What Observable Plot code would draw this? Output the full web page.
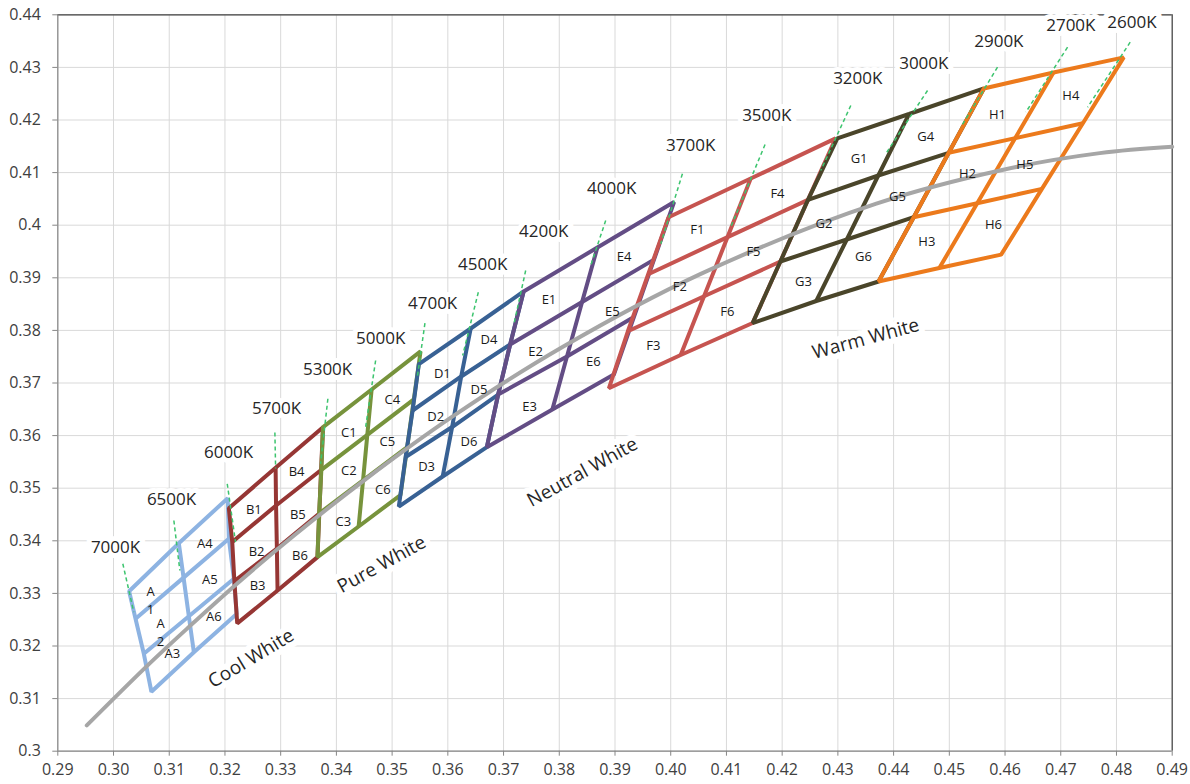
<!DOCTYPE html>
<html>
<head>
<meta charset="utf-8">
<script src="https://cdn.jsdelivr.net/npm/d3@7"></script>
<script src="https://cdn.jsdelivr.net/npm/@observablehq/plot@0.6"></script>
<style>
  html, body { margin: 0; padding: 0; background: #ffffff; }
  #chart svg { display: block; }
</style>
</head>
<body>
<div id="chart"></div>
<script>
// ---------- tick values & labels ----------
const xTicks = [0.29,0.30,0.31,0.32,0.33,0.34,0.35,0.36,0.37,0.38,0.39,0.40,0.41,0.42,0.43,0.44,0.45,0.46,0.47,0.48,0.49];
const xTickLabels = ["0.29","0.30","0.31","0.32","0.33","0.34","0.35","0.36","0.37","0.38","0.39","0.40","0.41","0.42","0.43","0.44","0.45","0.46","0.47","0.48","0.49"];
const yTicks = [0.30,0.31,0.32,0.33,0.34,0.35,0.36,0.37,0.38,0.39,0.40,0.41,0.42,0.43,0.44];
const yTickLabels = ["0.3","0.31","0.32","0.33","0.34","0.35","0.36","0.37","0.38","0.39","0.4","0.41","0.42","0.43","0.44"];

// ---------- bin groups: 12 points each (left line top->bottom, middle line, right line) ----------
const groupNames = ["A","B","C","D","E","F","G","H"];
const A_x = [0.3028,0.30395,0.30544,0.3068, 0.31172,0.31257,0.31352,0.31442, 0.3205,0.3207,0.3216,0.3221];
const A_y = [0.3304,0.32517,0.31852,0.3113, 0.33954,0.3330,0.32567,0.31882, 0.3481,0.34038,0.33278,0.3261];
const B_x = [0.3207,0.32131,0.32169,0.3222, 0.32909,0.32917,0.32932,0.32944, 0.3376,0.33725,0.33693,0.3366];
const B_y = [0.3462,0.33977,0.33236,0.3243, 0.35388,0.34671,0.33854,0.33055, 0.3616,0.35346,0.34519,0.3369];
const C_x = [0.3376,0.3373,0.3369,0.3366, 0.34632,0.34555,0.34478,0.34399, 0.3551,0.3539,0.35271,0.3515];
const C_y = [0.3616,0.3535,0.3452,0.3369, 0.36876,0.36015,0.35147,0.34272, 0.3760,0.3669,0.35781,0.3487];
const D_x = [0.3548,0.35368,0.35242,0.3512, 0.3641,0.3624,0.36077,0.35907, 0.3736,0.37118,0.36903,0.3670];
const D_y = [0.3736,0.36477,0.35593,0.3465, 0.38036,0.37124,0.36163,0.35222, 0.3874,0.37732,0.36781,0.3578];
const E_x = [0.3736,0.37118,0.36903,0.3670, 0.38684,0.38409,0.38138,0.37876, 0.4006,0.3970,0.39339,0.3898];
const E_y = [0.3874,0.37732,0.36781,0.3578, 0.39576,0.3854,0.37504,0.36496, 0.4044,0.39346,0.38253,0.3716];
const F_x = [0.3996,0.39596,0.39231,0.3889, 0.41436,0.4102,0.40598,0.40179, 0.4296,0.42463,0.41968,0.4147];
const F_y = [0.4015,0.39067,0.37983,0.3690, 0.40888,0.39774,0.3865,0.37532, 0.4165,0.40481,0.3931,0.3814];
const G_x = [0.4299,0.42463,0.41968,0.4147, 0.44278,0.43725,0.4316,0.42612, 0.4562,0.44989,0.44361,0.4373];
const G_y = [0.4165,0.40481,0.3931,0.3814, 0.42114,0.40945,0.39728,0.38559, 0.4260,0.41376,0.40152,0.3893];
const H_x = [0.4562,0.44989,0.44361,0.4373, 0.4687,0.46183,0.45501,0.44821, 0.4813,0.47397,0.46662,0.4593];
const H_y = [0.4260,0.41376,0.40152,0.3893, 0.42903,0.41656,0.40418,0.39186, 0.4319,0.41939,0.4069,0.3944];

// ---------- bin labels ----------
const cellNames = ["A\n1","A\n2","A3","A4","A5","A6","B1","B2","B3","B4","B5","B6",
  "C1","C2","C3","C4","C5","C6","D1","D2","D3","D4","D5","D6",
  "E1","E2","E3","E4","E5","E6","F1","F2","F3","F4","F5","F6",
  "G1","G2","G3","G4","G5","G6","H1","H2","H3","H4","H5","H6"];
const cellX = [0.30664,0.30844,0.31054,0.31639,0.31729,0.31801, 0.32519,0.32567,0.32585,0.33285,0.33309,0.33345,
  0.34224,0.34224,0.34124,0.35004,0.34914,0.34835, 0.35901,0.35781,0.35619,0.36738,0.36558,0.36379,
  0.37815,0.37576,0.37469,0.39162,0.38953,0.38612, 0.40479,0.40162,0.39689,0.41916,0.41485,0.41018,
  0.43381,0.42752,0.42382,0.44578,0.4407,0.4346, 0.45865,0.45327,0.44596,0.47181,0.46355,0.45793];
const cellY = [0.32884,0.32276,0.31882,0.33973,0.33278,0.3258, 0.34608,0.33816,0.33169,0.35337,0.34513,0.33734,
  0.36084,0.3535,0.34386,0.367,0.35907,0.34989, 0.37205,0.36382,0.35432,0.3784,0.3689,0.35907,
  0.38601,0.37618,0.36572,0.39424,0.38378,0.37428, 0.39932,0.38853,0.37732,0.40627,0.39519,0.38378,
  0.41293,0.40057,0.38949,0.41705,0.40565,0.39424, 0.42118,0.41008,0.39709,0.42479,0.41179,0.40027];

// ---------- Planckian locus ----------
const locusX = [0.2952,0.3064,0.3135,0.3221,0.3324,0.3451,0.3608,0.3805,0.4053,0.4369,0.4599,0.4770,0.4900];
const locusY = [0.3049,0.3166,0.3236,0.3318,0.3410,0.3516,0.3636,0.3768,0.3907,0.4041,0.4106,0.4137,0.4149];

// ---------- CCT labels and dashed iso-CCT marks ----------
const cctNames = ["7000K","6500K","6000K","5700K","5300K","5000K","4700K","4500K","4200K","4000K","3700K","3500K","3200K","3000K","2900K","2700K","2600K"];
const cctLabelX = [0.30036,0.31041,0.32065,0.32926,0.33842,0.34794,0.35727,0.36625,0.3772,0.38941,0.40359,0.41724,0.43357,0.44542,0.45889,0.47181,0.48277];
const cctLabelY = [0.33873,0.34785,0.35679,0.36515,0.37257,0.37846,0.38511,0.39253,0.3988,0.40698,0.41515,0.42093,0.42789,0.43074,0.43492,0.43797,0.43854];
const cctX1 = [0.30167,0.31083,0.32041,0.32896,0.33847,0.34704,0.35589,0.36547,0.37397,0.38833,0.4021,0.41693,0.43232,0.44609,0.45865,0.47122,0.48246];
const cctY1 = [0.33563,0.34386,0.35084,0.36059,0.367,0.37428,0.38137,0.38726,0.39139,0.40089,0.40977,0.41534,0.42276,0.42561,0.43004,0.43384,0.43479];
const cctX2 = [0.30364,0.3119,0.3219,0.32909,0.33716,0.34524,0.35452,0.36266,0.37187,0.38564,0.39821,0.41077,0.42693,0.4386,0.45206,0.46373,0.47481];
const cctY2 = [0.32643,0.33435,0.33973,0.35375,0.35464,0.3616,0.3711,0.37523,0.38125,0.39234,0.39646,0.39962,0.4104,0.41357,0.41863,0.42148,0.42243];

// ---------- region names ----------
const regionNames = ["Cool White","Pure White","Neutral White","Warm White"];
const regionX = [0.32469,0.34811,0.38415,0.43501];
const regionY = [0.31763,0.33549,0.35304,0.3784];
const regionAngle = [-31,-29,-29,-15];

// ---------- styles ----------
const groupColors = ["#8db3e2","#963634","#77933c","#386194","#634d85","#c65450","#4a452a","#ec7a1c"];
const FONT = "'Open Sans', 'Noto Sans', sans-serif";

// ---------- build tables ----------
const groupX = [A_x,B_x,C_x,D_x,E_x,F_x,G_x,H_x];
const groupY = [A_y,B_y,C_y,D_y,E_y,F_y,G_y,H_y];

const groupMarks = [];
groupNames.forEach((g, gi) => {
  const xs = groupX[gi], ys = groupY[gi];
  const P = (c, r, id) => ({x: xs[c * 4 + r], y: ys[c * 4 + r], id});
  const ring = [[1,0],[0,0],[0,1],[0,2],[0,3],[1,3],[2,3],[2,2],[2,1],[2,0],[1,0]].map(([c, r]) => P(c, r, g + "o"));
  const inner = [];
  [0,1,2,3].forEach(r => inner.push(P(1, r, g + "m")));
  [1,2].forEach(r => [0,1,2].forEach(c => inner.push(P(c, r, g + "r" + r))));
  groupMarks.push(Plot.line(inner, {x: "x", y: "y", z: "id", stroke: groupColors[gi], strokeWidth: 4, strokeLinejoin: "miter", strokeLinecap: "butt"}));
  groupMarks.push(Plot.line(ring, {x: "x", y: "y", z: "id", stroke: groupColors[gi], strokeWidth: 4, strokeLinejoin: "miter", strokeLinecap: "butt"}));
});

const locus = locusX.map((x, i) => ({x, y: locusY[i]}));
const cct = cctNames.map((name, i) => ({name, lx: cctLabelX[i], ly: cctLabelY[i], x1: cctX1[i], y1: cctY1[i], x2: cctX2[i], y2: cctY2[i]}));
const cells = cellNames.map((name, i) => ({name, x: cellX[i], y: cellY[i]}));
const regions = regionNames.map((name, i) => ({name, x: regionX[i], y: regionY[i], a: regionAngle[i]}));

const chart = Plot.plot({
  width: 1190,
  height: 784,
  marginLeft: 57.3,
  marginRight: 18.3,
  marginTop: 14.3,
  marginBottom: 33.3,
  style: {fontFamily: FONT, fontSize: "16px", background: "#ffffff", color: "#404040"},
  x: {domain: [0.29, 0.49]},
  y: {domain: [0.30, 0.44]},
  marks: [
    Plot.gridX(xTicks, {stroke: "#d9d9d9", strokeOpacity: 1, strokeWidth: 1}),
    Plot.gridY(yTicks, {stroke: "#d9d9d9", strokeOpacity: 1, strokeWidth: 1}),
    Plot.ruleY([0.44], {stroke: "#404040", strokeWidth: 1.2}),
    Plot.ruleX([0.49], {stroke: "#404040", strokeWidth: 1.2}),
    Plot.ruleX([0.29], {stroke: "#868686", strokeWidth: 1.2}),
    Plot.ruleY([0.30], {stroke: "#868686", strokeWidth: 1.2}),
    Plot.axisX(xTicks, {tickFormat: d => xTickLabels[xTicks.indexOf(d)], tickSize: 5, tickPadding: 7, stroke: "#868686", fill: "#404040", fontSize: 16, label: null}),
    Plot.axisY(yTicks, {tickFormat: d => yTickLabels[yTicks.indexOf(d)], tickSize: 5, tickPadding: 12, stroke: "#868686", fill: "#404040", fontSize: 16, label: null}),
    ...groupMarks,
    Plot.line(locus, {x: "x", y: "y", curve: "catmull-rom", stroke: "#a6a6a6", strokeWidth: 4}),
    Plot.link(cct, {x1: "x1", y1: "y1", x2: "x2", y2: "y2", stroke: "#3cc46e", strokeWidth: 1.5, strokeDasharray: "4,3"}),
    Plot.text(cells, {x: "x", y: "y", text: "name", fill: "#1a1a1a", fontSize: 13, lineHeight: 1.35}),
    Plot.text(cct, {x: "lx", y: "ly", text: "name", fill: "#262626", fontSize: 17, stroke: "white", strokeWidth: 10}),
    Plot.text(regions, {x: "x", y: "y", text: "name", rotate: "a", fill: "#262626", fontSize: 19, stroke: "white", strokeWidth: 12})
  ]
});

document.getElementById("chart").appendChild(chart);
</script>
</body>
</html>
